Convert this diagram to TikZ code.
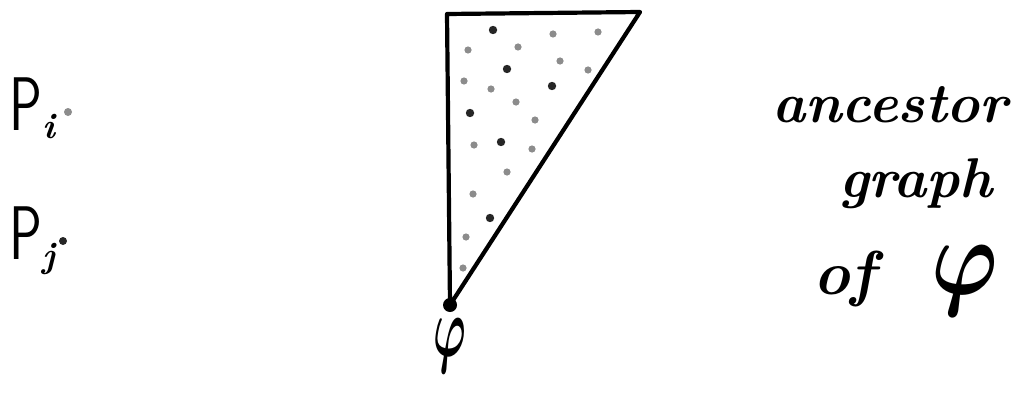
\documentclass[tikz,border=0pt]{standalone}
\usepackage{amsmath}
\usepackage{fontspec}
\usepackage{graphicx}
\begin{document}
\begin{tikzpicture}[x=1pt,y=-1pt,
  graydot/.style={fill=black!45,draw=none},
  darkdot/.style={fill=black!85,draw=none},
  hand/.style={inner sep=0pt,anchor=base,font=\fontsize{56}{56}\selectfont\bfseries\itshape},
  plabel/.style={inner sep=0pt,anchor=base west},
  edge/.style={line width=4.2pt,line join=round,line cap=round}]
\useasboundingbox (0,0) rectangle (1019,396);
% left labels
\node[plabel] (pi) at (9,130)
  {\fontsize{76}{76}\selectfont\sffamily\scalebox{0.72}[1]{P}\raisebox{-0.11em}{\fontsize{36}{36}\selectfont\rmfamily\bfseries\itshape i}};
\fill[graydot] (68,112) circle (4);
\node[plabel] (pj) at (9,259)
  {\fontsize{76}{76}\selectfont\sffamily\scalebox{0.72}[1]{P}\raisebox{-0.11em}{\fontsize{36}{36}\selectfont\rmfamily\bfseries\itshape j}};
\fill[darkdot] (63,241) circle (4);
% triangle
\coordinate (tl) at (447,14);
\coordinate (tr) at (640,12);
\coordinate (bt) at (450,305);
\draw[edge] (tl) -- (tr) -- (bt) -- cycle;
\fill (bt) circle (7);
% dots
\foreach \p in {(553,34),(598,32),(468,50),(518,47),(560,61),(588,70),(464,81),(491,89),(516,102),(535,120),(474,145),(532,149),(507,172),(473,194),(466,237),(463,268)}
  \fill[graydot] \p circle (3.6);
\foreach \p in {(493,30),(507,69),(552,86),(470,113),(501,142),(490,218)}
  \fill[darkdot] \p circle (4.2);
% phi
\node[inner sep=0pt,anchor=base] (phi) at (450,356) {\scalebox{4.4}[8.5]{$\boldsymbol{\varphi}$}};
% right text
\node[hand] (anc) at (890,122) {\addfontfeatures{LetterSpace=6}ancestor};
\node[hand] (gr) at (916,197) {\addfontfeatures{LetterSpace=14}graph};
\node[hand] (of) at (906,294) {\addfontfeatures{LetterSpace=12}\fontsize{62}{62}\selectfont of\hspace{0.9em}\scalebox{3.6}[4.4]{$\boldsymbol{\varphi}$}};
\end{tikzpicture}
\end{document}
